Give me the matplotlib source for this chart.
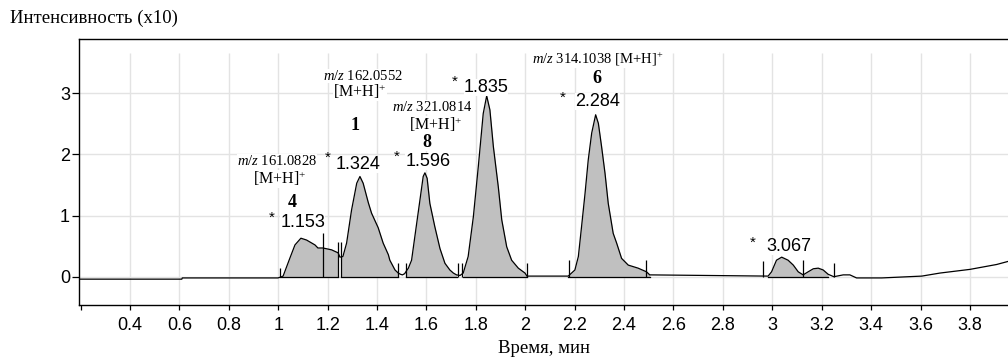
import numpy as np
import matplotlib.pyplot as plt

plt.rcParams['mathtext.fontset'] = 'custom'
plt.rcParams['mathtext.rm'] = 'Liberation Serif'
plt.rcParams['mathtext.it'] = 'Liberation Serif:italic'

# chromatogram trace (time, min ; intensity x10)
t = [0.2, 0.61, 0.612, 0.999, 1.007, 1.020, 1.048, 1.068, 1.092, 1.115, 1.149, 1.161, 1.181,
     1.216, 1.243, 1.250, 1.262, 1.277, 1.297, 1.318, 1.331, 1.344, 1.365, 1.378, 1.405,
     1.425, 1.446, 1.452, 1.473, 1.486, 1.495, 1.503, 1.512, 1.520, 1.527, 1.540, 1.553,
     1.574, 1.587, 1.594, 1.603, 1.614, 1.634, 1.655, 1.675, 1.695, 1.709, 1.722, 1.736,
     1.749, 1.769, 1.790, 1.810, 1.830, 1.844, 1.857, 1.871, 1.891, 1.905, 1.925, 1.945,
     1.972, 1.999, 2.007, 2.174, 2.201, 2.215, 2.228, 2.242, 2.255, 2.269, 2.285, 2.296,
     2.309, 2.323, 2.336, 2.356, 2.370, 2.390, 2.417, 2.457, 2.491, 2.504, 2.983, 2.997,
     3.017, 3.038, 3.064, 3.085, 3.105, 3.125, 3.145, 3.166, 3.186, 3.206, 3.226, 3.249,
     3.287, 3.314, 3.341, 3.443, 3.605, 3.679, 3.800, 3.908, 3.954]
y = [-0.04, -0.04, -0.02, -0.02, -0.01, 0.01, 0.31, 0.52, 0.63, 0.60, 0.52, 0.47, 0.47,
     0.44, 0.39, 0.32, 0.33, 0.55, 1.09, 1.53, 1.64, 1.53, 1.21, 1.04, 0.80,
     0.55, 0.36, 0.27, 0.11, 0.06, 0.04, 0.03, 0.05, 0.10, 0.14, 0.27, 0.65,
     1.26, 1.64, 1.70, 1.61, 1.20, 0.82, 0.46, 0.22, 0.11, 0.06, 0.03, 0.02,
     0.06, 0.33, 0.98, 1.80, 2.67, 2.96, 2.73, 2.13, 1.47, 0.93, 0.49, 0.27,
     0.14, 0.06, 0.01, 0.01, 0.11, 0.33, 0.82, 1.36, 1.91, 2.35, 2.65, 2.51,
     2.13, 1.69, 1.20, 0.71, 0.55, 0.30, 0.19, 0.14, 0.08, 0.03, 0.01, 0.08,
     0.27, 0.32, 0.27, 0.19, 0.08, 0.03, 0.08, 0.13, 0.14, 0.11, 0.04, 0.00,
     0.03, 0.03, -0.02, -0.02, 0.01, 0.06, 0.12, 0.20, 0.25]

# integrated peak windows
fill_start = [1.007, 1.255, 1.517, 1.749, 2.174, 2.983]
fill_end = [1.243, 1.486, 1.722, 2.007, 2.504, 3.226]

# integration markers (position, height)
mark_t = [1.007, 1.181, 1.243, 1.255, 1.486, 1.517, 1.729, 1.746, 2.009, 2.178, 2.488, 2.963, 3.123, 3.249]
mark_h = [0.14, 0.72, 0.57, 0.57, 0.22, 0.22, 0.22, 0.22, 0.22, 0.27, 0.27, 0.25, 0.27, 0.22]

xticks = [0.2, 0.4, 0.6, 0.8, 1.0, 1.2, 1.4, 1.6, 1.8, 2.0, 2.2, 2.4, 2.6, 2.8, 3.0, 3.2, 3.4, 3.6, 3.8]
xlabels = ['', '0.4', '0.6', '0.8', '1', '1.2', '1.4', '1.6', '1.8', '2', '2.2', '2.4', '2.6', '2.8',
           '3', '3.2', '3.4', '3.6', '3.8']
yticks = [0, 1, 2, 3]

t = np.array(t)
y = np.array(y)

fig = plt.figure(figsize=(10.08, 3.59), dpi=100)
ax = fig.add_axes([0.0784, 0.1504, 0.9216, 0.741])
ax.set_xlim(0.194, 3.954)
ax.set_ylim(-0.463, 3.89)

# grid
ax.vlines(xticks[1:], -0.463, 3.66, color='#e3e3e3', lw=1, zorder=0)
ax.hlines(yticks, 0.194, 3.954, color='#e3e3e3', lw=1, zorder=0)

# shaded peaks
for a, b in zip(fill_start, fill_end):
    m = (t >= a) & (t <= b)
    tt = np.concatenate([[a], t[m], [b]])
    yy = np.interp(tt, t, y)
    ax.fill_between(tt, yy, 0, color='#c0c0c0', lw=0, zorder=1)
    ax.plot([a, b], [0, 0], color='black', lw=0.9, zorder=2)

ax.plot(t, y, color='black', lw=0.9, zorder=3)
ax.vlines(mark_t, 0, mark_h, color='black', lw=0.9, zorder=3)

for s in ['left', 'bottom', 'top']:
    ax.spines[s].set_linewidth(1.0)
ax.spines['right'].set_visible(False)

ax.set_xticks(xticks)
ax.set_xticklabels(xlabels, fontfamily='Liberation Sans', fontsize=13)
ax.set_yticks(yticks)
ax.set_yticklabels([str(v) for v in yticks], fontfamily='Liberation Sans', fontsize=13)
ax.tick_params(axis='x', length=3.6, width=0.9, pad=5)
ax.tick_params(axis='y', length=5, width=0.9, pad=1.5)

fig.text(0.01, 0.95, 'Интенсивность (x10)', fontfamily='Liberation Serif', fontsize=13.5,
         ha='left', va='center')
fig.text(0.54, 0.028, 'Время, мин', fontfamily='Liberation Serif', fontsize=13.5,
         ha='center', va='center')

box = dict(facecolor='white', edgecolor='none', pad=0)
serif = dict(fontfamily='Liberation Serif', ha='center', va='center', bbox=box)
sans = dict(fontfamily='Liberation Sans', ha='center', va='center', bbox=box)

# m/z labels
mz_text = [r'$\mathit{m/z}$ 161.0828', r'$\mathit{m/z}$ 162.0552', r'$\mathit{m/z}$ 321.0814',
           r'$\mathit{m/z}$ 314.1038 [M+H]$^{+}$']
mz_x = [0.995, 1.343, 1.622, 2.294]
mz_y = [1.89, 3.28, 2.77, 3.55]
for s, a, b in zip(mz_text, mz_x, mz_y):
    ax.text(a, b, s, fontsize=10.5, zorder=6, **serif)

adduct_x = [1.007, 1.331, 1.639]
adduct_y = [1.60, 3.02, 2.48]
for a, b in zip(adduct_x, adduct_y):
    ax.text(a, b, r'[M+H]$^{+}$', fontsize=11.5, zorder=5, **serif)

cmpd = ['4', '1', '8', '6']
cmpd_x = [1.056, 1.311, 1.602, 2.290]
cmpd_y = [1.21, 2.48, 2.19, 3.24]
for s, a, b in zip(cmpd, cmpd_x, cmpd_y):
    ax.text(a, b, s, fontsize=13, fontweight='bold', zorder=5, **serif)

# retention times
rt = ['1.153', '1.324', '1.596', '1.835', '2.284', '3.067']
rt_x = [1.100, 1.323, 1.606, 1.841, 2.294, 3.067]
rt_y = [0.88, 1.83, 1.89, 3.10, 2.86, 0.49]
star_x = [0.975, 1.201, 1.481, 1.715, 2.153, 2.922]
star_y = [0.96, 1.94, 1.96, 3.19, 2.92, 0.55]
for s, a, b in zip(rt, rt_x, rt_y):
    ax.text(a, b, s, fontsize=13, zorder=5, **sans)
for a, b in zip(star_x, star_y):
    ax.text(a, b, '*', fontsize=11, fontfamily='Liberation Sans', ha='center', va='center', zorder=5)

fig.savefig('out.png', dpi=100)
